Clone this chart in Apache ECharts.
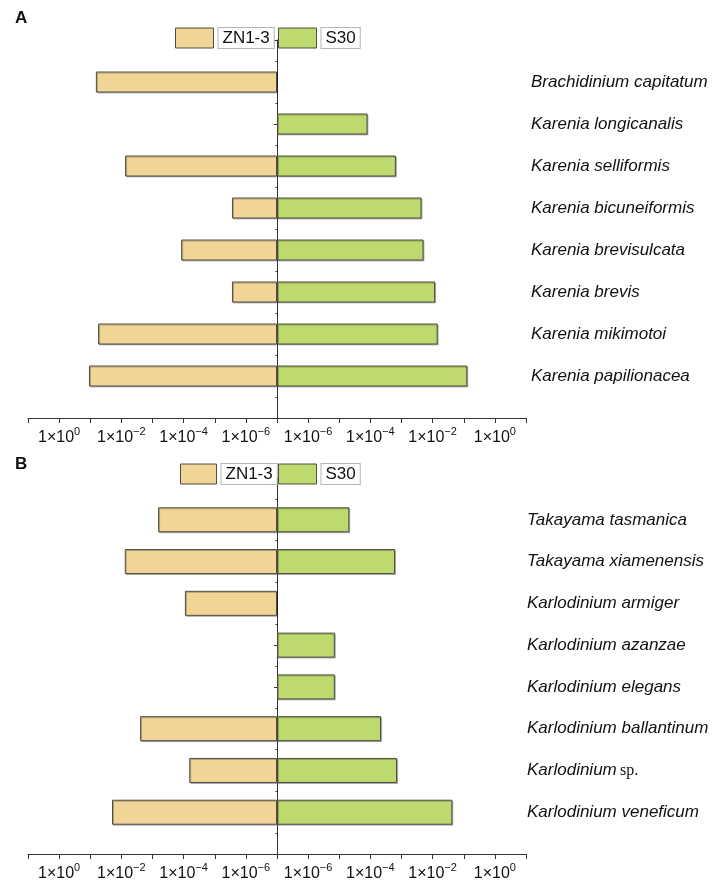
<!DOCTYPE html>
<html>
<head>
<meta charset="utf-8">
<title>Karenia / Karlodinium abundance</title>
<script src="https://cdn.jsdelivr.net/npm/echarts@6/dist/echarts.min.js"></script>
<style>
  html, body { margin: 0; padding: 0; background: #fff; }
  #chart { width: 712px; height: 882px; }
</style>
</head>
<body>
<div id="chart"></div>
<script>
// Relative abundance per species, top row first; null = not detected
const speciesA = [
  'Brachidinium capitatum', 'Karenia longicanalis', 'Karenia selliformis',
  'Karenia bicuneiformis', 'Karenia brevisulcata', 'Karenia brevis',
  'Karenia mikimotoi', 'Karenia papilionacea'
];
const zn13A = [6.6e-2, null, 7.6e-3, 2.8e-6, 1.2e-4, 2.8e-6, 5.6e-2, 1.1e-1];
const s30A  = [null, 8.1e-5, 6.6e-4, 4.4e-3, 5.1e-3, 1.2e-2, 1.45e-2, 1.3e-1];

const speciesB = [
  'Takayama tasmanica', 'Takayama xiamenensis', 'Karlodinium armiger',
  'Karlodinium azanzae', 'Karlodinium elegans', 'Karlodinium ballantinum',
  'Karlodinium sp.', 'Karlodinium veneficum'
];
const zn13B = [6.6e-4, 7.8e-3, 9.1e-5, null, null, 2.5e-3, 6.6e-5, 2.0e-2];
const s30B  = [2.1e-5, 6.2e-4, null, 7.2e-6, 7.2e-6, 2.2e-4, 7.2e-4, 4.3e-2];

const seriesNames = ['ZN1-3', 'S30'];
// Log axis spans 1e-7 .. 1e1 on each side; labelled decades
const LOG_FLOOR = -7;
const DECADES = 8;
const labelledExponents = [-6, -4, -2, 0];

const colZN = '#F1D596';
const colS30 = '#BED96D';
const edge = '#4d4d44';
const axisCol = '#333';

function decades(v) { return v == null ? null : Math.log10(v) - LOG_FLOOR; }
// Category slots: one empty slot below and above the species rows
function slots(list) { return [''].concat(list.slice().reverse(), ['']); }
function slotData(vals) { return [null].concat(vals.slice().reverse().map(decades), [null]); }

function tickLabel(val) {
  const e = Math.round(val) + LOG_FLOOR;
  if (labelledExponents.indexOf(e) < 0) return '';
  return '{b|1×10}{s|' + (e < 0 ? '−' + (-e) : String(e)) + '}';
}
const tickRich = {
  b: { fontSize: 16, fontFamily: 'Liberation Sans, Arial', color: '#111', lineHeight: 20, verticalAlign: 'bottom' },
  s: { fontSize: 11, fontFamily: 'Liberation Sans, Arial', color: '#111', lineHeight: 20, verticalAlign: 'top' }
};

function speciesLabel(name) {
  if (!name) return '';
  const m = name.match(/^(.*) sp\.$/);
  if (m) return '{i|' + m[1] + '} {r|sp.}';
  return '{i|' + name + '}';
}
const speciesRich = {
  i: { fontSize: 17, fontStyle: 'italic', fontFamily: 'Liberation Sans, Arial', color: '#111' },
  r: { fontSize: 16, fontFamily: 'Liberation Serif, Times New Roman', color: '#111' }
};

const panels = [
  { top: 40, species: speciesA, zn: zn13A, s30: s30A, barWidth: 21, labelMargin: 5 },
  { top: 478, species: speciesB, zn: zn13B, s30: s30B, barWidth: 25, labelMargin: 1 }
];
const plotHeight = 378;

const grid = [], xAxis = [], yAxis = [], series = [];
panels.forEach(function (p, pi) {
  const gL = pi * 2, gR = pi * 2 + 1;
  grid.push({ left: 28, width: 249, top: p.top, height: plotHeight });
  grid.push({ left: 277, width: 249, top: p.top, height: plotHeight });

  [gL, gR].forEach(function (g) {
    xAxis.push({
      type: 'value', gridIndex: g, min: 0, max: DECADES, interval: 1,
      inverse: g === gL,
      axisLine: { show: true, onZero: false, lineStyle: { color: axisCol, width: 1 } },
      axisTick: { show: true, length: 5, lineStyle: { color: axisCol } },
      splitLine: { show: false },
      axisLabel: { margin: 8, formatter: tickLabel, rich: tickRich }
    });
  });

  // left half: hidden category axis carrying the bars
  yAxis.push({
    type: 'category', gridIndex: gL, data: slots(p.species), boundaryGap: false,
    axisLine: { show: false }, axisTick: { show: false }, axisLabel: { show: false }
  });
  // right half: category axis with species names on the right edge
  yAxis.push({
    type: 'category', gridIndex: gR, position: 'right', data: slots(p.species), boundaryGap: false,
    axisLine: { show: false }, axisTick: { show: false },
    axisLabel: { interval: 0, margin: p.labelMargin, align: 'left', formatter: speciesLabel, rich: speciesRich }
  });
  // central vertical axis with major and minor ticks
  yAxis.push({
    type: 'value', gridIndex: gR, position: 'left', min: 0, max: 9, interval: 1,
    axisLine: { show: true, onZero: false, lineStyle: { color: axisCol, width: 1 } },
    axisTick: { show: true, length: 3, lineStyle: { color: axisCol } },
    minorTick: { show: true, splitNumber: 2, length: 1.5, lineStyle: { color: axisCol } },
    splitLine: { show: false }, minorSplitLine: { show: false },
    axisLabel: { show: false }
  });
  const yBase = pi * 3;

  const barStyle = function (c) {
    return {
      color: c, borderColor: edge, borderWidth: 1,
      shadowColor: 'rgba(0,0,0,0.25)', shadowOffsetX: 1, shadowOffsetY: 1, shadowBlur: 0
    };
  };
  series.push({
    name: seriesNames[0], type: 'bar', xAxisIndex: gL, yAxisIndex: yBase,
    barWidth: p.barWidth, data: slotData(p.zn), itemStyle: barStyle(colZN),
    silent: true, animation: false
  });
  series.push({
    name: seriesNames[1], type: 'bar', xAxisIndex: gR, yAxisIndex: yBase + 1,
    barWidth: p.barWidth, data: slotData(p.s30), itemStyle: barStyle(colS30),
    silent: true, animation: false
  });
});

function legendItem(name, left, top, w) {
  return {
    data: [name], left: left, top: top, orient: 'horizontal',
    icon: 'rect', itemWidth: w, itemHeight: 20, padding: 0, selectedMode: false,
    itemStyle: { borderColor: edge, borderWidth: 1 },
    textStyle: {
      fontSize: 17, fontFamily: 'Liberation Sans, Arial', color: '#111',
      backgroundColor: '#fff', borderColor: '#b5b5b5', borderWidth: 1,
      padding: [1, 4, 1, 4], lineHeight: 18
    }
  };
}

const chart = echarts.init(document.getElementById('chart'), null, { renderer: 'canvas' });
chart.setOption({
  animation: false,
  backgroundColor: '#fff',
  grid: grid, xAxis: xAxis, yAxis: yAxis, series: series,
  legend: [
    legendItem('ZN1-3', 175, 27, 38),
    legendItem('S30', 278, 27, 38),
    legendItem('ZN1-3', 180, 463, 36),
    legendItem('S30', 278, 463, 38)
  ],
  graphic: [
    { type: 'text', left: 15, top: 10, style: { text: 'A', font: 'bold 17px Liberation Sans, Arial', fill: '#111' } },
    { type: 'text', left: 15, top: 456, style: { text: 'B', font: 'bold 17px Liberation Sans, Arial', fill: '#111' } }
  ]
});
</script>
</body>
</html>
